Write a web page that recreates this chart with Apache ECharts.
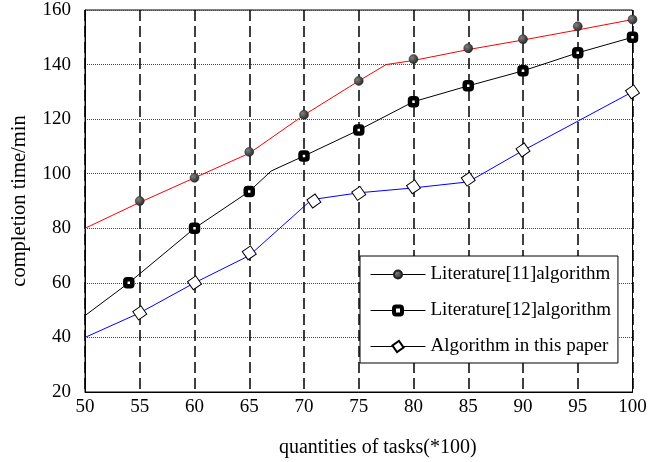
<!DOCTYPE html>
<html>
<head>
<meta charset="utf-8">
<script src="https://cdn.jsdelivr.net/npm/echarts@6/dist/echarts.min.js"></script>
<style>
  html, body { margin: 0; padding: 0; background: #fff; }
</style>
</head>
<body>
<div id="main" style="width:649px;height:462px;"></div>
<script>
// 曲线折点（线）
var lit11Line = [[50, 80], [55, 89.5], [60, 98.5], [65, 107.5], [70, 121.5], [75, 134], [77.5, 140], [80, 141.5], [85, 145.5], [90, 149], [95, 152.7], [100, 156.5]];
var lit12Line = [[50, 48], [54, 60], [60, 80], [65, 93.5], [67, 101], [70, 106.5], [75, 116], [80, 126.4], [85, 132.2], [90, 137.7], [95, 144.3], [100, 150]];
var oursLine = [[50, 40], [55, 49], [60, 60], [65, 70], [70.7, 90.5], [75, 93], [80, 94.8], [85, 97], [90, 108.5], [100, 130]];
// 标记点
var lit11Marks = [[55, 90], [60, 98.5], [65, 108], [70, 121.6], [75, 134], [80, 142], [85, 146], [90, 149.3], [95, 154], [100, 156.5]];
var lit12Marks = [[54, 60], [60, 80], [65, 93.5], [70, 106.5], [75, 116], [80, 126.4], [85, 132.2], [90, 137.7], [95, 144.3], [100, 150]];
var oursMarks = [[55, 49], [60, 60], [65, 71], [70.9, 90], [75, 92.8], [80, 95.2], [85, 98], [90, 108.7], [100, 130]];

var names = ['Literature[11]algorithm', 'Literature[12]algorithm', 'Algorithm in this paper'];
var font = 'Liberation Serif';

var ballFill = {
    type: 'radial', x: 0.35, y: 0.35, r: 0.75,
    colorStops: [{ offset: 0, color: '#808080' }, { offset: 1, color: '#1e1e1e' }]
};
var circleStyle = { color: ballFill, borderColor: '#222', borderWidth: 0.5, opacity: 1 };
var squareStyle = { color: '#fff', borderColor: '#000', borderWidth: 4.5, opacity: 1 };
var diamondStyle = { color: '#fff', borderColor: '#000', borderWidth: 1, opacity: 1 };

var myChart = echarts.init(document.getElementById('main'));
myChart.setOption({
    animation: false,
    backgroundColor: '#fff',
    grid: {
        left: 85, right: 16.5, top: 10, bottom: 70,
        outerBoundsMode: 'none',
        show: true, borderColor: '#000', borderWidth: 1
    },
    legend: {
        orient: 'vertical',
        left: 360, top: 256,
        padding: [9, 7, 7, 10],
        itemWidth: 55, itemHeight: 10, itemGap: 17,
        backgroundColor: '#fff',
        borderColor: '#000', borderWidth: 1,
        lineStyle: { color: '#000', width: 1 },
        textStyle: { fontFamily: font, fontSize: 19, color: '#000' },
        data: [
            { name: names[0] },
            { name: names[1], itemStyle: { borderWidth: 4 } },
            { name: names[2] }
        ]
    },
    xAxis: {
        type: 'value', min: 50, max: 100, interval: 5,
        name: 'quantities of tasks(*100)',
        nameLocation: 'middle', nameGap: 46,
        nameTextStyle: { fontFamily: font, fontSize: 20, color: '#000', padding: [0, 0, 0, 38] },
        axisLine: { lineStyle: { color: '#000' } },
        axisTick: { show: false },
        axisLabel: { fontFamily: font, fontSize: 19, color: '#000', margin: 6 },
        splitLine: { lineStyle: { color: '#000', type: [11, 5], width: 1.5 } }
    },
    yAxis: {
        type: 'value', min: 20, max: 160, interval: 20,
        name: 'completion time/min',
        nameLocation: 'middle', nameGap: 55,
        nameTextStyle: { fontFamily: font, fontSize: 20.5, color: '#000' },
        axisLine: { lineStyle: { color: '#000' } },
        axisTick: { show: false },
        axisLabel: { fontFamily: font, fontSize: 19, color: '#000', margin: 14, padding: [6, 0, 0, 0] },
        splitLine: { lineStyle: { color: '#444', type: [1, 1], width: 1 } }
    },
    series: [
        {
            name: names[0], type: 'line', data: lit11Line,
            symbol: 'circle', showSymbol: false,
            lineStyle: { color: '#ff0000', width: 1 },
            itemStyle: circleStyle
        },
        {
            name: names[1], type: 'line', data: lit12Line,
            symbol: 'roundRect', showSymbol: false,
            lineStyle: { color: '#000', width: 1 },
            itemStyle: squareStyle
        },
        {
            name: names[2], type: 'line', data: oursLine,
            symbol: 'rect', symbolRotate: 35, showSymbol: false,
            lineStyle: { color: '#0000ff', width: 1 },
            itemStyle: diamondStyle
        },
        { type: 'scatter', data: lit11Marks, symbol: 'circle', symbolSize: 9, itemStyle: circleStyle, z: 5 },
        { type: 'scatter', data: lit12Marks, symbol: 'roundRect', symbolSize: 7, itemStyle: squareStyle, z: 5 },
        { type: 'scatter', data: oursMarks, symbol: 'rect', symbolRotate: 35, symbolSize: 10, itemStyle: diamondStyle, z: 5 }
    ]
});
</script>
</body>
</html>
